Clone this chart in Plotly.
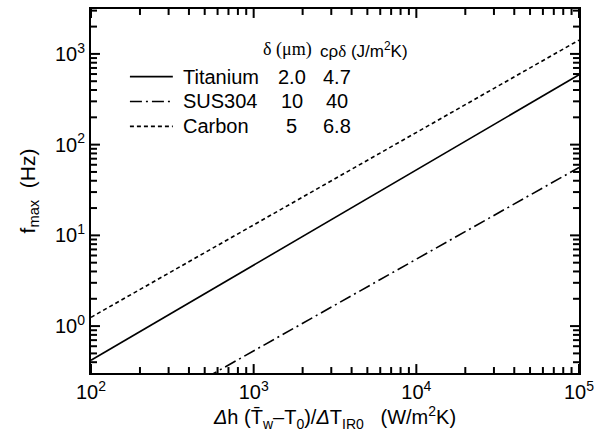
import math
import plotly.graph_objects as go

# Data
x_vals = [1e2, 1e5]
titanium = [0.42, 590]
sus304 = [0.052, 56]
carbon = [1.25, 1420]

series_names = ["Titanium", "SUS304", "Carbon"]
delta_um = ["2.0", "10", "5"]
crho_delta = ["4.7", "40", "6.8"]
dashes = ["solid", "12px,4px,2px,4px", "4px,3px"]

x_tick_vals = [1e2, 1e3, 1e4, 1e5]
x_tick_text = ["10<sup>2</sup>", "10<sup>3</sup>", "10<sup>4</sup>", "10<sup>5</sup>"]
y_tick_vals = [1e0, 1e1, 1e2, 1e3]
y_tick_text = ["10<sup>0</sup>", "10<sup>1</sup>", "10<sup>2</sup>", "10<sup>3</sup>"]

W, H = 601, 439
L, R, T, B = 91, 21, 7, 66
pw, ph = W - L - R, H - T - B
x_range = [2, 5]
y_range = [-0.517, 3.495]

fig = go.Figure()
for name, ys, d in zip(series_names, [titanium, sus304, carbon], dashes):
    fig.add_trace(go.Scatter(x=x_vals, y=ys, mode="lines", name=name,
                             line=dict(color="black", width=1.6, dash=d),
                             showlegend=False))

def px2paper(px, py):
    return (px - L) / pw, (H - B - py) / ph

font = "Liberation Sans, Arial, sans-serif"
serif = "Liberation Serif, Times New Roman, serif"
annotations = []
shapes = []

# legend header
hx, hy = px2paper(261, 48)
annotations.append(dict(xref="paper", yref="paper", x=hx, y=hy, xanchor="left", yanchor="middle",
                        showarrow=False, text="δ (μm)",
                        font=dict(family=serif, size=18, color="black")))
hx2, _ = px2paper(318, 48)
annotations.append(dict(xref="paper", yref="paper", x=hx2, y=hy, xanchor="left", yanchor="middle",
                        showarrow=False, text="cρ<span style='font-family:Liberation Serif'>δ</span> (J/m<sup>2</sup>K)",
                        font=dict(family=font, size=17, color="black")))
row_y = [75, 100, 125]
for i, name in enumerate(series_names):
    py = row_y[i]
    x0, y0 = px2paper(130, py)
    x1, _ = px2paper(173, py)
    shapes.append(dict(type="line", xref="paper", yref="paper", x0=x0, x1=x1, y0=y0, y1=y0,
                       line=dict(color="black", width=1.6, dash=dashes[i])))
    tx, ty = px2paper(181, py)
    annotations.append(dict(xref="paper", yref="paper", x=tx, y=ty, xanchor="left", yanchor="middle",
                            showarrow=False, text=name, font=dict(family=font, size=20, color="black")))
    dx, _ = px2paper(292, py)
    annotations.append(dict(xref="paper", yref="paper", x=dx, y=ty, xanchor="center", yanchor="middle",
                            showarrow=False, text=delta_um[i], font=dict(family=font, size=20, color="black")))
    cx, _ = px2paper(338, py)
    annotations.append(dict(xref="paper", yref="paper", x=cx, y=ty, xanchor="center", yanchor="middle",
                            showarrow=False, text=crho_delta[i], font=dict(family=font, size=20, color="black")))

# inside tick marks on all four sides (major at decades, minor at 2..9)
MAJ, MIN = 9, 6
def frac(v, rng):
    return (math.log10(v) - rng[0]) / (rng[1] - rng[0])

def tick_positions(rng):
    out = []
    for e in range(math.floor(rng[0]) - 1, math.ceil(rng[1]) + 1):
        for m in range(1, 10):
            v = m * 10 ** e
            f = frac(v, rng)
            if -1e-6 <= f <= 1 + 1e-6:
                out.append((f, MAJ if m == 1 else MIN))
    return out

for f, ln in tick_positions(x_range):
    for base, sgn in ((0, 1), (1, -1)):
        shapes.append(dict(type="line", xref="paper", yref="paper", x0=f, x1=f,
                           y0=base, y1=base + sgn * ln / ph, layer="above",
                           line=dict(color="black", width=2)))
for f, ln in tick_positions(y_range):
    for base, sgn in ((0, 1), (1, -1)):
        shapes.append(dict(type="line", xref="paper", yref="paper", y0=f, y1=f,
                           x0=base, x1=base + sgn * ln / pw, layer="above",
                           line=dict(color="black", width=2)))

axis_common = dict(type="log", ticks="", mirror=True, showline=True, linecolor="black",
                   linewidth=2, showgrid=False, zeroline=False, tickmode="array",
                   tickfont=dict(family=font, size=20, color="black"))

fig.update_layout(
    xaxis=dict(**axis_common, range=x_range, tickvals=x_tick_vals, ticktext=x_tick_text,
               title=dict(text="<i>Δ</i>h (T\u0304<sub>w</sub>\u2013T<sub>0</sub>)/<i>Δ</i>T<sub>IR0</sub>   (W/m<sup>2</sup>K)",
                          font=dict(family=font, size=20, color="black"), standoff=0)),
    yaxis=dict(**axis_common, range=y_range, tickvals=y_tick_vals, ticktext=y_tick_text,
               title=dict(text="f<sub>max</sub>  (Hz)", font=dict(family=font, size=21, color="black"),
                          standoff=14)),
)

fig.update_layout(width=W, height=H, margin=dict(l=L, r=R, t=T, b=B),
                  paper_bgcolor="white", plot_bgcolor="white",
                  annotations=annotations, shapes=shapes, showlegend=False)

fig.write_html("out.html")
